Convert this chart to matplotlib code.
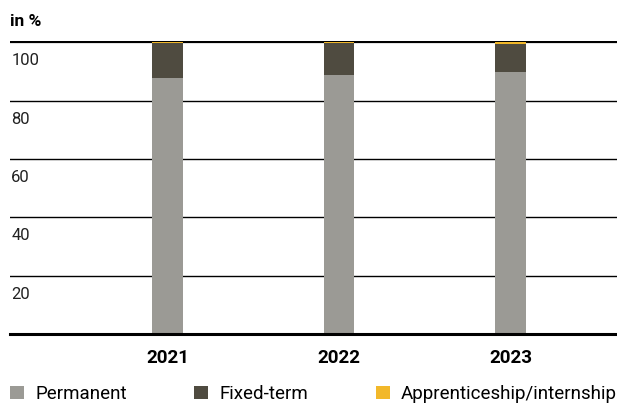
import matplotlib.pyplot as plt

# Data
years = ["2021", "2022", "2023"]
permanent = [87.7, 88.7, 89.8]
fixed_term = [12.0, 11.0, 9.6]
apprenticeship = [0.3, 0.3, 0.6]
y_ticks = [20, 40, 60, 80, 100]

c_perm = "#9b9a95"
c_fixed = "#4f4b40"
c_appr = "#f2b82a"

plt.rcParams['font.family'] = ['Roboto', 'DejaVu Sans']

W, H = 617, 403
fig = plt.figure(figsize=(W / 100, H / 100), dpi=100)
ax = fig.add_axes([10 / W, (H - 334) / H, 607 / W, 293 / H])

x = list(range(len(years)))
width = 0.18
ax.bar(x, permanent, width, color=c_perm, zorder=3, label="Permanent")
ax.bar(x, fixed_term, width, bottom=permanent, color=c_fixed, zorder=3, label="Fixed-term")
bottom2 = [p + f for p, f in zip(permanent, fixed_term)]
ax.bar(x, apprenticeship, width, bottom=bottom2, color=c_appr, zorder=3,
       label="Apprenticeship/internship")

ax.set_xlim(-157.5 / 171.5, (607 - 157.5) / 171.5)
ax.set_ylim(0, 100.5)

# gridlines and labels below each line
for t in y_ticks:
    ax.axhline(t, color="black", lw=1.6 if t == 100 else 1.0, zorder=1)
    ax.text(0.002, t - 6.3, str(t), transform=ax.get_yaxis_transform(),
            ha="left", va="center", fontsize=12, color="#222222")
ax.axhline(0, color="black", lw=2.2, zorder=4, clip_on=False)

for s in ax.spines.values():
    s.set_visible(False)
ax.set_yticks([])
ax.set_xticks(x)
ax.set_xticklabels(years, fontsize=13.5, fontweight="bold")
ax.tick_params(axis="x", length=0, pad=11)

fig.text(10 / W, 1 - 21 / H, "in %", fontsize=12.5, fontweight="bold",
         ha="left", va="center")

fig.legend(loc="center left", bbox_to_anchor=(10 / W, 1 - 394 / H), ncol=3,
           frameon=False, fontsize=13.5, handlelength=0.75, handleheight=0.75,
           handletextpad=0.59, columnspacing=3.6, borderaxespad=0, borderpad=0)

fig.savefig("out.png", dpi=100)
